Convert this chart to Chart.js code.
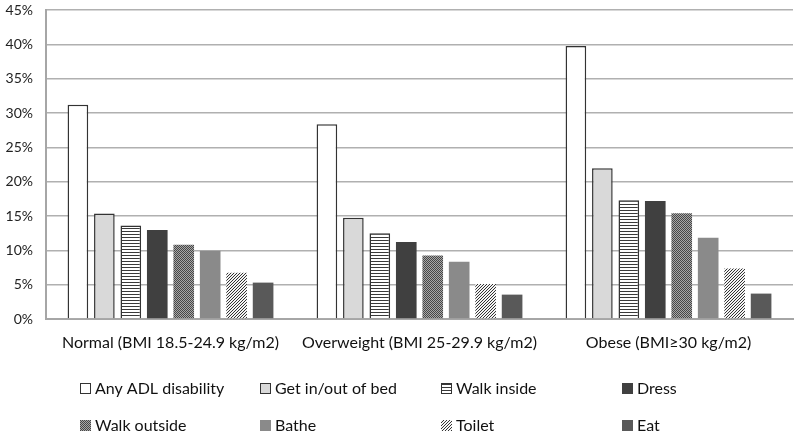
<!DOCTYPE html>
<html>
<head>
<meta charset="utf-8">
<script src="https://cdn.jsdelivr.net/npm/chart.js@4/dist/chart.umd.min.js"></script>
<style>
  html, body { margin: 0; padding: 0; background: #fff; }
  #wrap { position: relative; width: 800px; height: 439px; }
</style>
</head>
<body>
<div id="wrap"><canvas id="adl-chart"></canvas></div>
<script>
// Data (percent)
const groups = ['Normal (BMI 18.5-24.9 kg/m2)', 'Overweight (BMI 25-29.9 kg/m2)', 'Obese (BMI\u226530 kg/m2)'];
const seriesNames = ['Any ADL disability', 'Get in/out of bed', 'Walk inside', 'Dress', 'Walk outside', 'Bathe', 'Toilet', 'Eat'];
const anyAdl = [31.2, 28.35, 39.75];
const getInOutBed = [15.35, 14.75, 21.95];
const walkInside = [13.6, 12.5, 17.3];
const dress = [12.95, 11.2, 17.2];
const walkOutside = [10.8, 9.25, 15.4];
const bathe = [9.95, 8.35, 11.85];
const toilet = [6.75, 5.1, 7.35];
const eat = [5.3, 3.55, 3.7];
const yTicks = [0, 5, 10, 15, 20, 25, 30, 35, 40, 45];

const FONT = 'Lato, "Open Sans", sans-serif';

/**
 * Builds a small repeating canvas pattern.
 */
function makePattern(w, h, draw) {
  const c = document.createElement('canvas');
  c.width = w;
  c.height = h;
  const g = c.getContext('2d');
  draw(g);
  return g.createPattern(c, 'repeat');
}

const stripesH = makePattern(3, 3, (g) => {
  g.fillStyle = '#fff';
  g.fillRect(0, 0, 3, 3);
  g.fillStyle = '#3a3a3a';
  g.fillRect(0, 0, 3, 1);
});

const checker = makePattern(2, 2, (g) => {
  g.fillStyle = '#a8a8a8';
  g.fillRect(0, 0, 2, 2);
  g.fillStyle = '#474747';
  g.fillRect(0, 0, 1, 1);
  g.fillRect(1, 1, 1, 1);
});

// "////" hatching for Toilet
const diagonal = makePattern(3, 3, (g) => {
  g.fillStyle = '#f4f4f4';
  g.fillRect(0, 0, 3, 3);
  g.fillStyle = '#333';
  g.fillRect(2, 0, 1, 1);
  g.fillRect(1, 1, 1, 1);
  g.fillRect(0, 2, 1, 1);
});

const seriesValues = [anyAdl, getInOutBed, walkInside, dress, walkOutside, bathe, toilet, eat];
const fills = ['#ffffff', '#d9d9d9', stripesH, '#404040', checker, '#8a8a8a', diagonal, '#595959'];
const outlined = [true, true, true, false, false, false, false, false];

const datasets = seriesNames.map((name, i) => ({
  label: name,
  data: seriesValues[i],
  backgroundColor: fills[i],
  borderColor: outlined[i] ? '#333' : 'rgba(0,0,0,0)',
  borderWidth: outlined[i] ? 1.5 : 0,
  categoryPercentage: 0.85,
  barPercentage: 0.78,
}));

// Legend drawn in a fixed 4-column grid like the original
const legendGrid = {
  id: 'legendGrid',
  afterDraw(chart) {
    const ctx = chart.ctx;
    const colX = [80, 260, 441, 622];
    const rowY = [389, 426];
    ctx.save();
    ctx.font = '16px ' + FONT;
    ctx.textBaseline = 'middle';
    ctx.textAlign = 'left';
    seriesNames.forEach((name, i) => {
      const x = colX[i % 4];
      const y = rowY[Math.floor(i / 4)];
      ctx.fillStyle = fills[i];
      ctx.fillRect(x, y - 6, 11, 11);
      if (outlined[i]) {
        ctx.strokeStyle = '#333';
        ctx.lineWidth = 1;
        ctx.strokeRect(x + 0.5, y - 5.5, 10, 10);
      }
      ctx.fillStyle = '#111';
      ctx.fillText(name, x + 15, y);
    });
    ctx.restore();
  },
};

new Chart(document.getElementById('adl-chart'), {
  type: 'bar',
  data: { labels: groups, datasets: datasets },
  plugins: [legendGrid],
  options: {
    animation: false,
    responsive: true,
    maintainAspectRatio: false,
    layout: { padding: { top: 10, right: 7, bottom: 80, left: 0 } },
    plugins: {
      legend: { display: false },
      tooltip: { enabled: false },
    },
    scales: {
      x: {
        grid: { display: false, drawTicks: false },
        border: { color: '#a6a6a6', width: 2 },
        ticks: {
          color: '#111',
          font: { family: FONT, size: 16 },
          padding: 14,
          maxRotation: 0,
          autoSkip: false,
        },
        afterFit(scale) { scale.height = 40; },
      },
      y: {
        min: 0,
        max: 45,
        afterBuildTicks(scale) { scale.ticks = yTicks.map((v) => ({ value: v })); },
        grid: { color: '#b0b0b0', lineWidth: 1.5, drawTicks: false },
        border: { color: '#a6a6a6', width: 2 },
        ticks: {
          color: '#222',
          font: { family: FONT, size: 14 },
          padding: 13,
          callback: (v) => v + '%',
        },
        afterFit(scale) {
          scale.width = 46;
          scale.paddingTop = 0;
          scale.paddingBottom = 0;
        },
      },
    },
  },
});
</script>
</body>
</html>
